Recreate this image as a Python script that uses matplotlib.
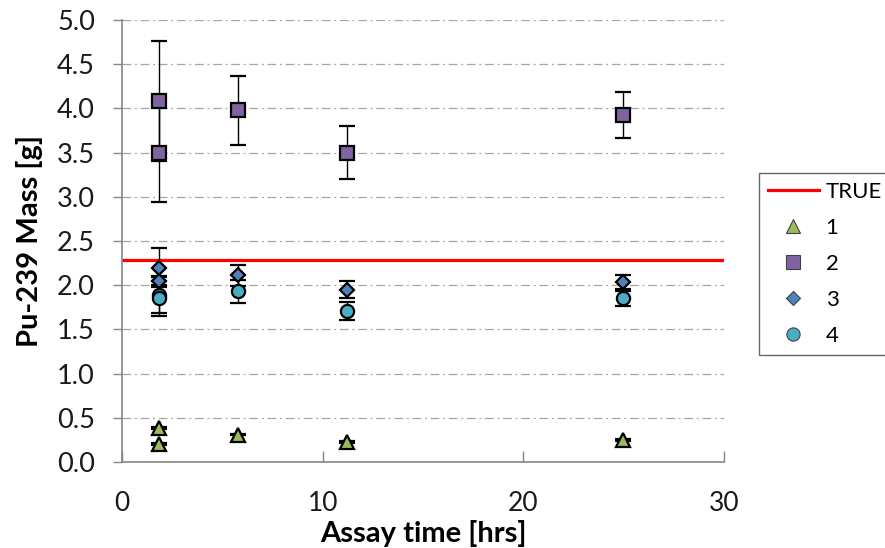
import matplotlib.pyplot as plt
from matplotlib.lines import Line2D

plt.rcParams["font.family"] = ["Lato", "DejaVu Sans"]

# Pu-239 mass estimates vs assay time, four analysis sets
true_mass = 2.29

time_1 = [1.84, 1.84, 5.78, 11.2, 24.96]
mass_1 = [0.385, 0.20, 0.31, 0.23, 0.25]
err_1 = [0.01, 0.01, 0.01, 0.01, 0.01]

time_2 = [1.84, 1.84, 5.78, 11.2, 24.96]
mass_2 = [4.08, 3.50, 3.98, 3.50, 3.93]
err_2 = [0.68, 0.56, 0.39, 0.30, 0.26]

time_3 = [1.84, 1.84, 5.78, 11.2, 24.96]
mass_3 = [2.20, 2.05, 2.11, 1.95, 2.04]
err_3 = [0.22, 0.05, 0.12, 0.10, 0.08]

time_4 = [1.84, 1.84, 5.78, 11.2, 24.96]
mass_4 = [1.89, 1.85, 1.93, 1.71, 1.85]
err_4 = [0.20, 0.20, 0.13, 0.10, 0.08]

series = [
    ("1", time_1, mass_1, err_1, "^", "#9BBB59", 9.5),
    ("2", time_2, mass_2, err_2, "s", "#8064A2", 10),
    ("3", time_3, mass_3, err_3, "D", "#4F81BD", 7.5),
    ("4", time_4, mass_4, err_4, "o", "#4BACC6", 9.5),
]

fig = plt.figure(figsize=(8.85, 5.48), dpi=100)
ax = fig.add_axes([0.138, 0.157, 0.680, 0.8065])

ax.set_xlim(0, 30)
ax.set_ylim(0, 5)
ax.set_xticks([0, 10, 20, 30])
ax.set_yticks([i * 0.5 for i in range(11)])
ax.set_yticklabels([f"{i * 0.5:.1f}" for i in range(11)])

for y in [i * 0.5 for i in range(1, 11)]:
    ax.axhline(y, color="#a6a6a6", lw=0.9, ls=(0, (7, 3, 1.5, 3)), zorder=0)

handles = []
ax.axhline(true_mass, color="#ff0000", lw=2.3, zorder=2)
handles.append(Line2D([], [], color="#ff0000", lw=2.3, label="TRUE"))

for name, t, m, e, mk, col, ms in series:
    ax.errorbar(t, m, yerr=e, fmt=mk, color="black", ecolor="black",
                elinewidth=1.0, capsize=6, capthick=1.0,
                markerfacecolor=col, markeredgecolor="black",
                markeredgewidth=1.6, markersize=ms, zorder=3)
    handles.append(Line2D([], [], ls="none", marker=mk, markersize=ms,
                          markerfacecolor=col, markeredgecolor="#404040",
                          markeredgewidth=0.8, label=name))

for side in ["top", "right"]:
    ax.spines[side].set_visible(False)
for side in ["left", "bottom"]:
    ax.spines[side].set_color("#868686")
    ax.spines[side].set_linewidth(1.2)

ax.tick_params(axis="y", direction="out", length=6.5, width=1, color="#868686",
               labelsize=19.5, pad=13, labelcolor="#1a1a1a")
ax.tick_params(axis="x", direction="in", length=8, width=1, color="#868686",
               labelsize=19, pad=21, labelcolor="#1a1a1a")

ax.set_xlabel("Assay time [hrs]", fontsize=21, fontweight="bold", labelpad=3)
ax.set_ylabel("Pu-239 Mass [g]", fontsize=21, fontweight="bold", labelpad=10)

leg = fig.legend(handles=handles, loc="upper left",
                 bbox_to_anchor=(0.8576, 0.6843), fontsize=16,
                 frameon=True, fancybox=False, handlelength=2.3,
                 handletextpad=0.3, labelspacing=0.72, borderpad=0.4,
                 borderaxespad=0)
leg.get_frame().set_edgecolor("#404040")
leg.get_frame().set_linewidth(1.0)

fig.savefig("out.png", dpi=100)
